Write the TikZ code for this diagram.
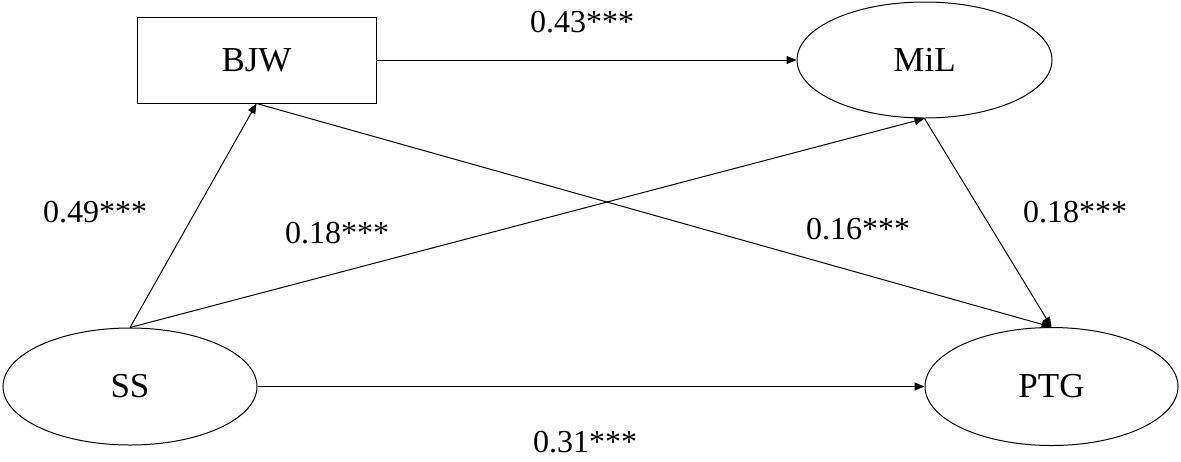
\documentclass[tikz,border=0pt]{standalone}
\usepackage{fontspec}
\setmainfont{Liberation Serif}
\usetikzlibrary{shapes.geometric,arrows.meta}
\tikzset{
  latent/.style={draw, ellipse, line width=0.5pt, inner sep=0pt, font=\fontsize{17.5}{20}\selectfont},
  observed/.style={draw, rectangle, line width=0.5pt, inner sep=0pt, minimum width=119.5pt, minimum height=43pt, font=\fontsize{17.5}{20}\selectfont},
  effect/.style={-{Triangle[length=5pt,width=4pt]}, line width=0.5pt},
  coef/.style={inner sep=0pt, font=\fontsize{16}{19}\selectfont}
}
\begin{document}
\begin{tikzpicture}[x=0.5pt,y=-0.5pt]
\useasboundingbox (0,0) rectangle (1181,461);
%%% The variables of the model
\node[observed] (bjw) at (256.5, 60) {BJW};
\node[latent, minimum width=127.5pt, minimum height=58pt] (mil) at (924.5, 60) {MiL};
\node[latent, minimum width=127pt, minimum height=58.5pt] (ss) at (130, 386.5) {SS};
\node[latent, minimum width=126.5pt, minimum height=59pt] (ptg) at (1051.5, 386.5) {PTG};
%%% The paths between them
\draw[effect] (bjw.east) -- (mil.west);
\draw[effect] (ss.north) -- (bjw.south);
\draw[effect] (ss.north) -- (mil.south);
\draw[effect] (bjw.south) -- (ptg.north);
\draw[effect] (mil.south) -- (ptg.north);
\draw[effect] (ss.east) -- (ptg.west);
%%% The path coefficients
\node[coef] (c43) at (582, 22) {0.43***};
\node[coef] (c49) at (95, 212) {0.49***};
\node[coef] (c18a) at (337, 233) {0.18***};
\node[coef] (c16) at (858, 229) {0.16***};
\node[coef] (c18b) at (1075, 212) {0.18***};
\node[coef] (c31) at (585, 442) {0.31***};
\end{tikzpicture}
\end{document}
